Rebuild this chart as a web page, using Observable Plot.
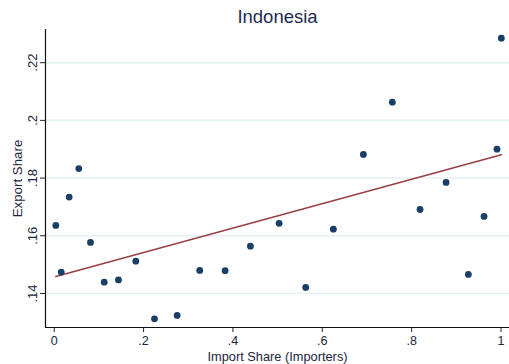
<!DOCTYPE html>
<html>
<head>
<meta charset="utf-8">
<script src="https://cdn.jsdelivr.net/npm/d3@7"></script>
<script src="https://cdn.jsdelivr.net/npm/@observablehq/plot@0.6"></script>
<style>
  html, body { margin: 0; padding: 0; background: #fff; }
</style>
</head>
<body>
<div id="chart"></div>
<script>
// Data
const importShare = [0.0036, 0.0157, 0.0335, 0.055, 0.0812, 0.1119, 0.1438, 0.1826, 0.2244, 0.2752,
  0.3257, 0.3825, 0.4391, 0.5034, 0.5629, 0.6248, 0.692, 0.7568, 0.8188, 0.877, 0.9269, 0.962, 0.991, 1.0007];
const exportShare = [0.1636, 0.1474, 0.1734, 0.1833, 0.1577, 0.1439, 0.1447, 0.1512, 0.1312, 0.1324,
  0.148, 0.1479, 0.1564, 0.1643, 0.1421, 0.1623, 0.1882, 0.2063, 0.1691, 0.1785, 0.1466, 0.1667, 0.19, 0.2285];

// Fitted line (as drawn in the reference)
const fitX = [0.0036, 1.0007];
const fitY = [0.1459, 0.1881];

const xTicks = [0, 0.2, 0.4, 0.6, 0.8, 1];
const xTickLabels = ["0", ".2", ".4", ".6", ".8", "1"];
const yTicks = [0.14, 0.16, 0.18, 0.2, 0.22];
const yTickLabels = [".14", ".16", ".18", ".2", ".22"];

const titleText = "Indonesia";
const xLabel = "Import Share (Importers)";
const yLabel = "Export Share";

const xDomain = [-0.0195, 1.019];
const yDomain = [0.1282, 0.2315];

const data = importShare.map((x, i) => ({x, y: exportShare[i]}));
const fit = fitX.map((x, i) => ({x, y: fitY[i]}));
const xFmt = new Map(xTicks.map((t, i) => [t, xTickLabels[i]]));
const yFmt = new Map(yTicks.map((t, i) => [t, yTickLabels[i]]));

const ink = "#1b2440";

const chart = Plot.plot({
  width: 509,
  height: 364,
  marginLeft: 45,
  marginRight: 0,
  marginTop: 29,
  marginBottom: 37,
  style: {fontFamily: "'Liberation Sans', Arial, sans-serif", background: "#fff"},
  x: {domain: xDomain, axis: null},
  y: {domain: yDomain, axis: null},
  marks: [
    Plot.ruleY(yTicks, {y: d => d, stroke: "#e6eff1", strokeWidth: 1.5}),
    Plot.line(fit, {x: "x", y: "y", stroke: "#9a3f47", strokeWidth: 1.6}),
    Plot.dot(data, {x: "x", y: "y", r: 3.4, fill: "#1a3f66", stroke: "none"}),
    Plot.ruleX([xDomain[0]], {stroke: "#111", strokeWidth: 1.2}),
    Plot.ruleY([yDomain[0]], {stroke: "#111", strokeWidth: 1.2}),
    Plot.axisX(xTicks, {tickSize: 5, tickPadding: 4, fontSize: 12.5, fill: ink, stroke: "#222",
      tickFormat: d => xFmt.get(d), label: null}),
    Plot.axisY(yTicks, {tickSize: 5, stroke: "#222", tickFormat: () => "", label: null}),
    Plot.text(yTicks, {y: d => d, text: d => yFmt.get(d), frameAnchor: "left", dx: -9, rotate: -90,
      lineAnchor: "bottom", textAnchor: "middle", fontSize: 13, fill: ink}),
    Plot.text([yLabel], {frameAnchor: "left", dx: -24, rotate: -90, lineAnchor: "bottom",
      textAnchor: "middle", fontSize: 13.3, fill: ink}),
    Plot.text([xLabel], {frameAnchor: "bottom", dy: 33, lineAnchor: "bottom", fontSize: 12.8, fill: ink}),
    Plot.text([titleText], {frameAnchor: "top", dy: -6.3, lineAnchor: "bottom", fontSize: 18.5, fill: "#1e2a4e"})
  ]
});
document.getElementById("chart").appendChild(chart);
</script>
</body>
</html>
